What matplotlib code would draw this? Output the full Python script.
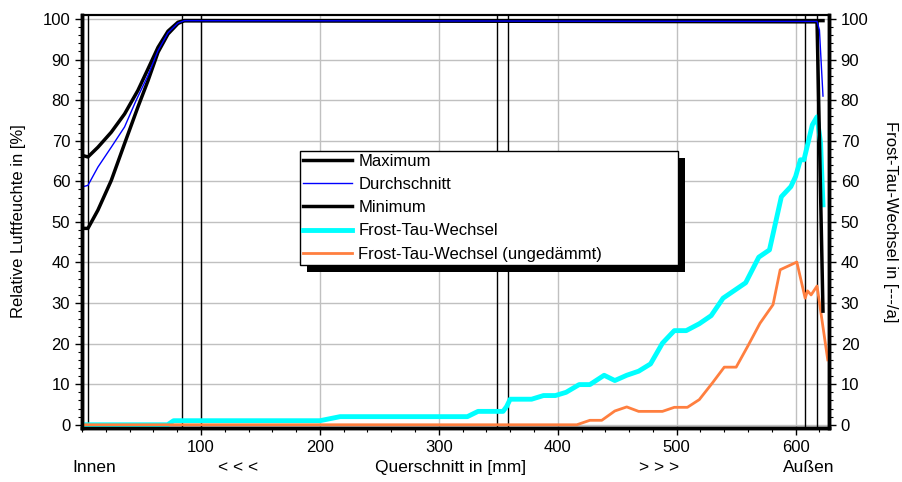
import matplotlib.pyplot as plt
from matplotlib.patches import Rectangle
from matplotlib.ticker import MultipleLocator

# Relative Luftfeuchte [%]
max_x = [0, 5, 13.4, 24.6, 35.8, 47, 55.5, 63.9, 72.3, 80.7, 86, 618, 623]
max_y = [66.4, 66, 68.4, 72.1, 76.6, 82.4, 87.7, 93.0, 97.0, 99.2, 99.6, 99.6, 99.6]
avg_x = [0, 5, 13.4, 24.6, 35.8, 45.6, 55.5, 63.9, 72.3, 80.7, 86, 618, 620, 623]
avg_y = [58.6, 59, 63.5, 68.4, 73.4, 80, 86.1, 92.2, 96.6, 99.0, 99.6, 99.4, 97.3, 81]
min_x = [0, 5, 13.4, 24.6, 35.8, 47, 55.5, 63.9, 72.3, 80.7, 86, 618, 623]
min_y = [48.4, 48.4, 52.9, 60.2, 69.3, 78.3, 84.8, 91.8, 96.3, 98.9, 99.6, 99.3, 28]

# Frost-Tau-Wechsel [---/a]
ftw_x = [0, 72, 77, 200, 217, 324, 333, 354, 357, 360, 378, 388, 398, 407, 418,
         427, 439, 448, 458, 468, 478, 488, 498, 508, 519, 529, 539, 558, 569,
         578, 588, 596, 600, 604, 607, 611, 614, 618, 621, 623]
ftw_y = [0, 0, 1, 1, 2, 2, 3.3, 3.3, 4.5, 6.3, 6.3, 7.2, 7.2, 8, 9.9,
         9.9, 12.2, 10.9, 12.2, 13.2, 15, 20.1, 23.2, 23.2, 24.9, 26.9, 31.2, 35, 41.3,
         43.1, 56.2, 58.7, 61.2, 65.3, 65.3, 70.2, 73.9, 75.9, 69.4, 54.2]
ung_x = [0, 416, 427, 437, 448, 458, 468, 488, 498, 509, 519, 530, 540, 550,
         560, 570, 581, 587, 601, 608, 610, 613, 618, 627]
ung_y = [0, 0, 1.1, 1.1, 3.4, 4.4, 3.3, 3.3, 4.3, 4.3, 6.2, 10.3, 14.2, 14.2,
         19.5, 25, 29.6, 38.2, 40.1, 31.2, 33, 32, 34.2, 16]

# Schichtgrenzen
layer_x = [5, 84, 100, 349, 358, 608, 618]

x_ticks = [100, 200, 300, 400, 500, 600]


def main():
    plt.rcParams["font.family"] = ["Liberation Sans", "DejaVu Sans"]
    plt.rcParams["font.size"] = 12

    fig = plt.figure(figsize=(9.02, 4.82), dpi=100)
    ax = fig.add_axes([0.0909, 0.112, 0.8281, 0.857])
    ax2 = ax.twinx()

    ax.set_xlim(0, 628)
    ax.set_ylim(-0.8, 101)
    ax2.set_ylim(-0.8, 101)

    ax.grid(True, which="major", color="#c0c0c0", linewidth=1)
    ax.set_axisbelow(True)

    for xv in layer_x:
        ax.axvline(xv, color="black", linewidth=1, zorder=2)

    l_ftw, = ax.plot(ftw_x, ftw_y, color="#00ffff", linewidth=3.5, zorder=3,
                     label="Frost-Tau-Wechsel")
    l_ung, = ax.plot(ung_x, ung_y, color="#ff7f3f", linewidth=2, zorder=3,
                     label="Frost-Tau-Wechsel (ungedämmt)")
    l_min, = ax.plot(min_x, min_y, color="black", linewidth=2.5, zorder=4, label="Minimum")
    l_max, = ax.plot(max_x, max_y, color="black", linewidth=2.5, zorder=4, label="Maximum")
    l_avg, = ax.plot(avg_x, avg_y, color="#0000ff", linewidth=1, zorder=5,
                     label="Durchschnitt")

    ax.set_xticks(x_ticks)
    ax.xaxis.set_minor_locator(MultipleLocator(20))
    for a in (ax, ax2):
        a.yaxis.set_minor_locator(MultipleLocator(2))
        a.set_yticks(range(0, 101, 10))
        a.tick_params(which="major", length=5, width=1, labelsize=12)
        a.tick_params(which="minor", length=3, width=0.8)

    for a in (ax, ax2):
        for side in ("left", "right", "bottom"):
            a.spines[side].set_linewidth(2.5)
        a.spines["top"].set_linewidth(1.5)

    ax.set_ylabel("Relative Luftfeuchte in [%]", fontsize=12, labelpad=12)
    ax2.set_ylabel("Frost-Tau-Wechsel in [---/a]", fontsize=12, rotation=-90,
                   labelpad=21)

    fig.text(0.104, 0.02, "Innen", ha="center", fontsize=12.5)
    fig.text(0.264, 0.02, "< < <", ha="center", fontsize=12.5)
    fig.text(0.499, 0.02, "Querschnitt in [mm]", ha="center", fontsize=12.5)
    fig.text(0.731, 0.02, "> > >", ha="center", fontsize=12.5)
    fig.text(0.897, 0.02, "Außen", ha="center", fontsize=12.5)

    handles = [l_max, l_avg, l_min, l_ftw, l_ung]
    leg = ax2.legend(handles=handles, loc="lower left",
                     bbox_to_anchor=(0.292, 0.395, 0.506, 0.27), mode="expand",
                     frameon=True, fancybox=False, edgecolor="black", framealpha=1,
                     fontsize=12, handlelength=2.9, handletextpad=0.4,
                     labelspacing=0.49, borderpad=0.2, borderaxespad=0)
    leg.get_frame().set_linewidth(1)
    leg.set_zorder(10)

    fig.canvas.draw()
    bb = leg.get_window_extent()
    inv = ax2.transAxes.inverted()
    (x0, y0), (x1, y1) = inv.transform([(bb.x0 + 7, bb.y0 - 7), (bb.x1 + 7, bb.y1 - 7)])
    ax2.add_patch(Rectangle((x0, y0), x1 - x0, y1 - y0, transform=ax2.transAxes,
                            facecolor="black", edgecolor="none", zorder=9,
                            clip_on=False))

    fig.savefig("out.png", dpi=100)
    plt.close(fig)


if __name__ == "__main__":
    main()
